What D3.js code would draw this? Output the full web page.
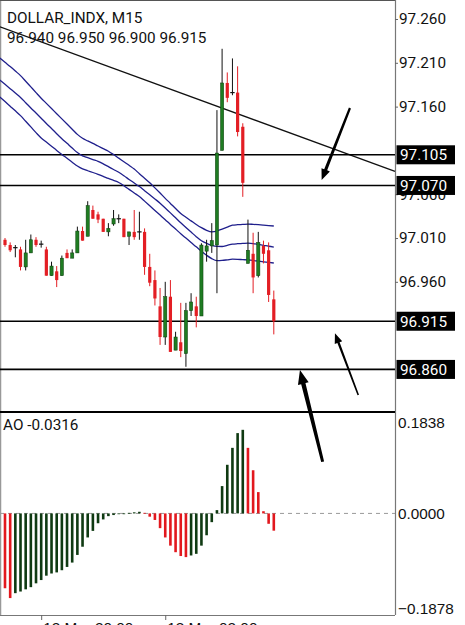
<!DOCTYPE html>
<html>
<head>
<meta charset="utf-8">
<script src="https://cdn.jsdelivr.net/npm/d3@7"></script>
<style>
  html, body { margin: 0; padding: 0; background: #fff; }
  svg { display: block; font-family: Roboto, "Noto Sans", sans-serif; }
</style>
</head>
<body>
<script>
const svgWidth = 465;
const svgHeight = 625;
const fontSize = 15.3;

// ---- data ----
const symbol = 'DOLLAR_INDX';
const timeframe = 'M15';

const opens  = [97.008,97.002,96.999,96.997,96.977,96.993,97.008,97.003,96.997,96.967,
                96.972,96.967,96.993,96.987,96.993,97.018,97.012,97.042,97.037,97.032,
                97.017,97.026,97.032,97.032,97.012,97.017,97.017,97.017,96.977,96.962,
                96.932,96.897,96.943,96.882,96.891,96.878,96.927,96.932,96.921,96.995,
                97.001,97.002,97.110,97.187,97.176,97.176,97.137,96.981,96.992,96.967,
                97.001,96.996,96.940];
const highs  = [97.010,97.005,97.002,97.000,97.008,97.014,97.011,97.007,97.000,96.983,
                96.978,96.990,96.997,96.997,97.023,97.023,97.052,97.047,97.040,97.032,
                97.027,97.042,97.037,97.032,97.017,97.042,97.040,97.021,96.992,96.973,
                96.953,96.960,96.962,96.903,96.936,96.936,96.947,96.943,97.004,97.008,
                97.027,97.156,97.226,97.199,97.215,97.206,97.141,97.031,97.016,97.017,
                97.007,97.005,96.950];
const lows   = [97.000,96.994,96.988,96.973,96.973,96.993,97.000,96.999,96.967,96.967,
                96.954,96.967,96.987,96.987,96.993,97.007,97.012,97.032,97.027,97.017,
                97.012,97.024,97.027,97.011,97.002,97.008,97.008,96.968,96.955,96.933,
                96.888,96.888,96.880,96.882,96.874,96.863,96.921,96.908,96.921,96.983,
                96.993,96.947,97.110,97.165,97.173,97.126,97.057,96.981,96.947,96.965,
                96.981,96.937,96.900];
const closes = [97.002,96.996,96.999,96.977,96.993,97.008,97.002,97.003,96.967,96.978,
                96.962,96.987,96.987,96.993,97.018,97.007,97.047,97.032,97.031,97.017,
                97.021,97.032,97.032,97.011,97.017,97.011,97.017,96.977,96.959,96.941,
                96.897,96.943,96.880,96.897,96.881,96.927,96.937,96.921,97.002,97.001,
                97.007,97.107,97.187,97.170,97.176,97.131,97.073,96.996,96.965,97.005,
                96.992,96.945,96.915];

// three blue moving averages, first value is the bar before index 0
const maUpper = [97.2155,97.2106,97.2057,97.2006,97.1954,97.1890,97.1825,97.1760,97.1696,97.1637,
                 97.1578,97.1519,97.1460,97.1401,97.1342,97.1283,97.1238,97.1208,97.1180,97.1150,
                 97.1121,97.1091,97.1053,97.1012,97.0971,97.0930,97.0887,97.0834,97.0783,97.0730,
                 97.0672,97.0613,97.0553,97.0495,97.0436,97.0380,97.0337,97.0296,97.0255,97.0218,
                 97.0188,97.0171,97.0180,97.0202,97.0225,97.0247,97.0252,97.0255,97.0259,97.0256,
                 97.0252,97.0247,97.0242,97.0237];
const maMiddle = [97.1904,97.1855,97.1805,97.1755,97.1704,97.1645,97.1585,97.1527,97.1468,97.1408,
                  97.1350,97.1291,97.1234,97.1181,97.1127,97.1075,97.1037,97.1017,97.0996,97.0976,
                  97.0947,97.0915,97.0882,97.0850,97.0811,97.0769,97.0728,97.0687,97.0640,97.0593,
                  97.0546,97.0498,97.0442,97.0387,97.0331,97.0275,97.0221,97.0168,97.0115,97.0069,
                  97.0039,97.0016,97.0004,97.0003,97.0017,97.0030,97.0035,97.0038,97.0042,97.0037,
                  97.0027,97.0017,97.0006,96.9997];
const maLower = [97.1710,97.1658,97.1605,97.1552,97.1497,97.1433,97.1368,97.1303,97.1242,97.1195,
                 97.1148,97.1100,97.1054,97.1010,97.0965,97.0922,97.0889,97.0868,97.0848,97.0827,
                 97.0804,97.0780,97.0758,97.0734,97.0697,97.0655,97.0614,97.0573,97.0521,97.0468,
                 97.0415,97.0362,97.0309,97.0255,97.0203,97.0149,97.0099,97.0049,97.0000,96.9949,
                 96.9903,96.9864,96.9842,96.9844,96.9851,96.9859,96.9857,96.9853,96.9850,96.9844,
                 96.9836,96.9828,96.9821,96.9815];

// Awesome Oscillator
const aoPrevious = -0.130;
const aoValues = [-0.137,-0.155,-0.146,-0.143,-0.139,-0.135,-0.128,-0.122,-0.114,-0.110,
                  -0.108,-0.104,-0.098,-0.090,-0.076,-0.061,-0.044,-0.032,-0.018,-0.011,
                  -0.005,-0.003,-0.001,0.000,0.001,0.002,0.003,0.001,-0.006,-0.012,
                  -0.027,-0.044,-0.059,-0.071,-0.078,-0.080,-0.077,-0.074,-0.059,-0.040,
                  -0.016,0.006,0.050,0.089,0.120,0.147,0.153,0.120,0.079,0.039,
                  0.004,-0.019,-0.0316];

// horizontal levels and trend line drawn by the user
const levels = [97.105, 97.070, 96.915, 96.860];
const trendIdx = [0, 50];
const trendPrice = [97.249, 97.141];

// hand drawn arrows: [tailIdx, tailPrice, tipIdx, tipPrice]
const arrows = [
    [66.73, 97.1584, 61.26, 97.0762],
    [68.34, 96.8308, 63.83, 96.9012],
    [61.45, 96.7546, 57.06, 96.8593],
];

// 97.110 / 96.910 / 96.860 sit completely under the level boxes, so they are left out
const priceTicks = [97.260, 97.210, 97.160, 97.060, 97.010, 96.960];
const aoTicks = [0.1838, 0.0, -0.1878];
const timeTickIdx = [7, 31];
const timeTickLabels = ['12 Mar 20:00', '13 Mar 02:00'];

// ---- layout ----
const plotRight = 395;
const mainBottom = 412;
const frameBottom = 615;

const bullColor = '#1f7c22';
const bearColor = '#e31e24';
const aoUp = '#0f3a12';
const aoDown = '#e2181e';
const maColor = '#1f1f8c';

const x = d3.scaleLinear().domain([0, closes.length - 1]).range([5, 273.8]);
const y = d3.scaleLinear().domain([96.8114, 97.2817]).range([mainBottom, 0]);
const yAo = d3.scaleLinear().domain([-0.1878, 0.1838]).range([616, 413]);

const svg = d3.select('body')
    .append('svg')
    .attr('width', svgWidth)
    .attr('height', svgHeight);

// frame
svg.append('line').attr('x1', 0.5).attr('x2', 0.5).attr('y1', 0).attr('y2', frameBottom)
    .attr('stroke', '#999').attr('stroke-width', 1.5);
svg.append('line').attr('x1', 0).attr('x2', plotRight).attr('y1', 0.5).attr('y2', 0.5)
    .attr('stroke', '#555');
svg.append('line').attr('x1', 0).attr('x2', plotRight).attr('y1', frameBottom + 0.5).attr('y2', frameBottom + 0.5)
    .attr('stroke', '#777').attr('stroke-width', 1.2);
svg.append('line').attr('x1', plotRight + 0.5).attr('x2', plotRight + 0.5).attr('y1', 0).attr('y2', frameBottom)
    .attr('stroke', '#777').attr('stroke-width', 1.2);

// ---- main panel ----
const main = svg.append('g');

// trend line, extended across the whole panel
const tx0 = x(trendIdx[0]), ty0 = y(trendPrice[0]);
const tx1 = x(trendIdx[1]), ty1 = y(trendPrice[1]);
const slope = (ty1 - ty0) / (tx1 - tx0);
main.append('line')
    .attr('x1', 0).attr('y1', ty0 - slope * tx0)
    .attr('x2', plotRight).attr('y2', ty0 + slope * (plotRight - tx0))
    .attr('stroke', '#111').attr('stroke-width', 1.3);

// horizontal levels
main.selectAll('.level')
    .data(levels)
    .enter()
    .append('line')
    .attr('class', 'level')
    .attr('x1', 0).attr('x2', plotRight)
    .attr('y1', d => y(d)).attr('y2', d => y(d))
    .attr('stroke', '#000').attr('stroke-width', 1.6);

// moving averages (index -1 is the bar before the first candle)
const maLine = d3.line()
    .x((d, i) => x(i - 1))
    .y(d => y(d))
    .curve(d3.curveMonotoneX);
[maUpper, maMiddle, maLower].forEach(ma => {
    main.append('path')
        .attr('d', maLine(ma))
        .attr('fill', 'none')
        .attr('stroke', maColor)
        .attr('stroke-width', 1.3);
});

// candles
const candles = closes.map((c, i) => ({ i, o: opens[i], h: highs[i], l: lows[i], c }));
const bodyW = 3.2;
const candleG = main.selectAll('.candle')
    .data(candles)
    .enter()
    .append('g')
    .attr('class', 'candle');

candleG.append('line')
    .attr('x1', d => x(d.i)).attr('x2', d => x(d.i))
    .attr('y1', d => y(d.h)).attr('y2', d => y(d.l))
    .attr('stroke', d => (d.c < d.o - 0.0015) ? bearColor : '#111')
    .attr('stroke-width', 1);

candleG.filter(d => Math.abs(d.c - d.o) >= 0.0015)
    .append('rect')
    .attr('x', d => x(d.i) - bodyW / 2)
    .attr('width', bodyW)
    .attr('y', d => y(Math.max(d.o, d.c)))
    .attr('height', d => Math.abs(y(d.o) - y(d.c)))
    .attr('fill', d => d.c > d.o ? bullColor : bearColor)
    .attr('stroke', d => d.c > d.o ? '#0c3d0c' : 'none')
    .attr('stroke-width', 0.5);

// doji: short black dash
candleG.filter(d => Math.abs(d.c - d.o) < 0.0015)
    .append('line')
    .attr('x1', d => x(d.i) - 2.2).attr('x2', d => x(d.i) + 2.2)
    .attr('y1', d => y(d.c)).attr('y2', d => y(d.c))
    .attr('stroke', '#111').attr('stroke-width', 1.2);

// window separator
svg.append('line').attr('x1', 0).attr('x2', plotRight).attr('y1', mainBottom).attr('y2', mainBottom)
    .attr('stroke', '#000').attr('stroke-width', 2);

// price axis
const priceAxis = svg.append('g')
    .attr('transform', `translate(${plotRight},0)`)
    .call(d3.axisRight(y).tickValues(priceTicks).tickSize(3).tickPadding(1).tickFormat(d3.format('.3f')));
priceAxis.select('.domain').remove();
priceAxis.selectAll('text').attr('font-size', fontSize).attr('fill', '#111').attr('font-family', 'Roboto');
priceAxis.selectAll('line').attr('stroke', '#666');

// level labels (black boxes)
const levelLabel = svg.selectAll('.level-label')
    .data(levels)
    .enter()
    .append('g')
    .attr('class', 'level-label')
    .attr('transform', d => `translate(${plotRight + 1.5},${y(d)})`);
levelLabel.append('rect')
    .attr('x', 0).attr('y', -9.5).attr('width', 58.5).attr('height', 19)
    .attr('fill', '#000');
levelLabel.append('text')
    .attr('x', 3.5).attr('dy', '0.36em')
    .attr('font-size', fontSize)
    .attr('fill', '#fff')
    .text(d => d.toFixed(3));

// title
const last = candles[candles.length - 1];
svg.append('text').attr('x', 7).attr('y', 23).attr('font-size', fontSize).attr('fill', '#111')
    .text(`${symbol}, ${timeframe}`);
svg.append('text').attr('x', 7).attr('y', 43).attr('font-size', fontSize).attr('fill', '#111')
    .text([last.o, last.h, last.l, last.c].map(v => v.toFixed(3)).join(' '));

// ---- AO panel ----
svg.append('line')
    .attr('x1', 0).attr('x2', plotRight)
    .attr('y1', yAo(0)).attr('y2', yAo(0))
    .attr('stroke', '#999').attr('stroke-width', 1)
    .attr('stroke-dasharray', '4,4');

svg.selectAll('.ao')
    .data(aoValues)
    .enter()
    .append('rect')
    .attr('class', 'ao')
    .attr('x', (d, i) => x(i) - 1.3)
    .attr('width', 2.6)
    .attr('y', d => yAo(Math.max(0, d)))
    .attr('height', d => Math.max(0.8, Math.abs(yAo(d) - yAo(0))))
    .attr('fill', (d, i) => d >= (i === 0 ? aoPrevious : aoValues[i - 1]) ? aoUp : aoDown);

svg.append('text').attr('x', 3).attr('y', 430).attr('font-size', fontSize).attr('fill', '#111')
    .text('AO ' + aoValues[aoValues.length - 1].toFixed(4));

const aoAxis = svg.append('g')
    .attr('transform', `translate(${plotRight},0)`)
    .call(d3.axisRight(yAo).tickValues(aoTicks).tickSize(0).tickPadding(3).tickFormat(d3.format('.4f')));
aoAxis.select('.domain').remove();
aoAxis.selectAll('text')
    .attr('font-size', fontSize).attr('fill', '#111')
    .attr('dy', d => d === aoTicks[0] ? '0.92em' : (d === aoTicks[2] ? '-0.15em' : '0.32em'));

// ---- time axis (labels are cut by the bottom edge, as in the screenshot) ----
const timeAxis = svg.append('g')
    .attr('transform', `translate(0,${frameBottom})`)
    .call(d3.axisBottom(x).tickValues(timeTickIdx).tickSize(5).tickPadding(2)
        .tickFormat((d, i) => timeTickLabels[i]));
timeAxis.select('.domain').remove();
timeAxis.selectAll('line').attr('stroke', '#666');
timeAxis.selectAll('text')
    .attr('font-size', fontSize).attr('fill', '#111')
    .attr('text-anchor', 'start').attr('dx', 1.5);

// ---- arrows ----
function arrowPath(a, shaft0, shaft1, headLen, headW) {
    const x0 = x(a[0]), y0 = y(a[1]), x1 = x(a[2]), y1 = y(a[3]);
    const len = Math.hypot(x1 - x0, y1 - y0);
    const ux = (x1 - x0) / len, uy = (y1 - y0) / len;
    const nx = -uy, ny = ux;
    const bx = x1 - ux * headLen, by = y1 - uy * headLen;
    const pts = [
        [x0 + nx * shaft0 / 2, y0 + ny * shaft0 / 2],
        [bx + nx * shaft1 / 2, by + ny * shaft1 / 2],
        [bx + nx * headW / 2, by + ny * headW / 2],
        [x1, y1],
        [bx - nx * headW / 2, by - ny * headW / 2],
        [bx - nx * shaft1 / 2, by - ny * shaft1 / 2],
        [x0 - nx * shaft0 / 2, y0 - ny * shaft0 / 2],
    ];
    return 'M' + pts.map(p => p.join(',')).join('L') + 'Z';
}
const arrowStyle = [[2.2, 3.2, 11, 9], [1.6, 2.4, 10, 8], [3, 4.4, 14, 11]];
svg.selectAll('.arrow')
    .data(arrows)
    .enter()
    .append('path')
    .attr('class', 'arrow')
    .attr('d', (d, i) => arrowPath(d, ...arrowStyle[i]))
    .attr('fill', '#000');
</script>
</body>
</html>
